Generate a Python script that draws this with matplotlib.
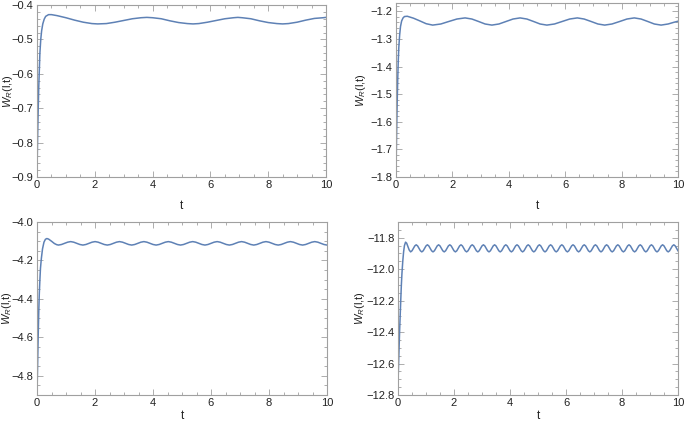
import numpy as np
import matplotlib.pyplot as plt
from matplotlib.ticker import MultipleLocator

plt.rcParams['font.family'] = ['Liberation Sans', 'DejaVu Sans']
plt.rcParams['mathtext.fontset'] = 'custom'
plt.rcParams['mathtext.rm'] = 'Liberation Sans'
plt.rcParams['mathtext.it'] = 'Liberation Sans:italic'

# panel 1 (top left)
t1 = [0, 0.01, 0.02, 0.04, 0.06, 0.08, 0.1, 0.13, 0.16, 0.2, 0.25, 0.3, 0.4, 0.5, 0.7,
      1.0, 1.3, 1.6, 1.9, 2.1, 2.4, 2.7, 3.0, 3.3, 3.6, 3.8, 4.0, 4.3, 4.6, 4.9, 5.2,
      5.4, 5.6, 5.9, 6.2, 6.5, 6.8, 6.95, 7.1, 7.4, 7.7, 8.0, 8.3, 8.5, 8.7, 9.0, 9.3,
      9.6, 9.9, 10.0]
w1 = [-0.90, -0.84, -0.79, -0.71, -0.64, -0.59, -0.54, -0.50, -0.475, -0.455, -0.441,
      -0.433, -0.428, -0.428, -0.431, -0.437, -0.444, -0.450, -0.454, -0.455, -0.454,
      -0.450, -0.445, -0.440, -0.437, -0.436, -0.437, -0.440, -0.446, -0.451, -0.454,
      -0.455, -0.454, -0.450, -0.445, -0.440, -0.437, -0.436, -0.437, -0.440, -0.446,
      -0.451, -0.454, -0.455, -0.454, -0.450, -0.444, -0.439, -0.437, -0.436]

# panel 2 (top right)
t2 = [0, 0.01, 0.02, 0.04, 0.06, 0.08, 0.1, 0.13, 0.16, 0.2, 0.25, 0.3, 0.4,
      0.62, 0.85, 1.07, 1.3, 1.59, 1.87, 2.16, 2.45, 2.69, 2.93, 3.16, 3.4,
      3.65, 3.9, 4.15, 4.4, 4.64, 4.88, 5.11, 5.35, 5.62, 5.89, 6.16, 6.43,
      6.67, 6.92, 7.16, 7.4, 7.66, 7.93, 8.19, 8.45, 8.69, 8.93, 9.16, 9.4,
      9.65, 9.85, 10.0]
w2 = [-1.80, -1.72, -1.65, -1.54, -1.45, -1.38, -1.33, -1.285, -1.255, -1.235, -1.224,
      -1.219, -1.218,
      -1.225, -1.235, -1.245, -1.250,
      -1.246, -1.237, -1.228, -1.224,
      -1.228, -1.237, -1.246, -1.250,
      -1.246, -1.237, -1.228, -1.224,
      -1.228, -1.237, -1.246, -1.250,
      -1.246, -1.237, -1.228, -1.224,
      -1.228, -1.237, -1.246, -1.250,
      -1.246, -1.237, -1.228, -1.224,
      -1.228, -1.237, -1.246, -1.250,
      -1.246, -1.240, -1.236]

# panel 3 (bottom left): start-up, then the wavy part sampled evenly
t3_rise = [0, 0.02, 0.04, 0.06, 0.08, 0.1, 0.12, 0.15, 0.19, 0.24, 0.29, 0.34, 0.4, 0.5,
           0.6, 0.68]
w3_rise = [-4.90, -4.75, -4.60, -4.47, -4.37, -4.30, -4.24, -4.19, -4.14, -4.105, -4.09,
           -4.086, -4.089, -4.100, -4.112, -4.118]
t3_wave = np.linspace(0.74, 10.0, 89)
w3_wave = [-4.120, -4.117, -4.111, -4.105, -4.102, -4.105, -4.111, -4.117,
           -4.120, -4.117, -4.111, -4.105, -4.102, -4.105, -4.111, -4.117,
           -4.120, -4.117, -4.111, -4.105, -4.102, -4.105, -4.111, -4.117,
           -4.120, -4.117, -4.111, -4.105, -4.102, -4.105, -4.111, -4.117,
           -4.120, -4.117, -4.111, -4.105, -4.102, -4.105, -4.111, -4.117,
           -4.120, -4.117, -4.111, -4.105, -4.102, -4.105, -4.111, -4.117,
           -4.120, -4.117, -4.111, -4.105, -4.102, -4.105, -4.111, -4.117,
           -4.120, -4.117, -4.111, -4.105, -4.102, -4.105, -4.111, -4.117,
           -4.120, -4.117, -4.111, -4.105, -4.102, -4.105, -4.111, -4.117,
           -4.120, -4.117, -4.111, -4.105, -4.102, -4.105, -4.111, -4.117,
           -4.120, -4.117, -4.111, -4.105, -4.102, -4.105, -4.111, -4.117,
           -4.120]

# panel 4 (bottom right)
t4_rise = [0, 0.02, 0.04, 0.06, 0.08, 0.1, 0.12, 0.14, 0.17, 0.2, 0.23, 0.27, 0.31,
           0.35, 0.4]
w4_rise = [-12.72, -12.60, -12.48, -12.38, -12.28, -12.19, -12.10, -12.03, -11.95,
           -11.89, -11.85, -11.828, -11.835, -11.855, -11.878]
t4_wave = np.linspace(0.45, 10.0, 192)
w4_wave = [-11.890, -11.883, -11.868, -11.852, -11.845, -11.852, -11.868, -11.883,
           -11.890, -11.883, -11.868, -11.852, -11.845, -11.852, -11.868, -11.883,
           -11.890, -11.883, -11.868, -11.852, -11.845, -11.852, -11.868, -11.883,
           -11.890, -11.883, -11.868, -11.852, -11.845, -11.852, -11.868, -11.883,
           -11.890, -11.883, -11.868, -11.852, -11.845, -11.852, -11.868, -11.883,
           -11.890, -11.883, -11.868, -11.852, -11.845, -11.852, -11.868, -11.883,
           -11.890, -11.883, -11.868, -11.852, -11.845, -11.852, -11.868, -11.883,
           -11.890, -11.883, -11.868, -11.852, -11.845, -11.852, -11.868, -11.883,
           -11.890, -11.883, -11.868, -11.852, -11.845, -11.852, -11.868, -11.883,
           -11.890, -11.883, -11.868, -11.852, -11.845, -11.852, -11.868, -11.883,
           -11.890, -11.883, -11.868, -11.852, -11.845, -11.852, -11.868, -11.883,
           -11.890, -11.883, -11.868, -11.852, -11.845, -11.852, -11.868, -11.883,
           -11.890, -11.883, -11.868, -11.852, -11.845, -11.852, -11.868, -11.883,
           -11.890, -11.883, -11.868, -11.852, -11.845, -11.852, -11.868, -11.883,
           -11.890, -11.883, -11.868, -11.852, -11.845, -11.852, -11.868, -11.883,
           -11.890, -11.883, -11.868, -11.852, -11.845, -11.852, -11.868, -11.883,
           -11.890, -11.883, -11.868, -11.852, -11.845, -11.852, -11.868, -11.883,
           -11.890, -11.883, -11.868, -11.852, -11.845, -11.852, -11.868, -11.883,
           -11.890, -11.883, -11.868, -11.852, -11.845, -11.852, -11.868, -11.883,
           -11.890, -11.883, -11.868, -11.852, -11.845, -11.852, -11.868, -11.883,
           -11.890, -11.883, -11.868, -11.852, -11.845, -11.852, -11.868, -11.883,
           -11.890, -11.883, -11.868, -11.852, -11.845, -11.852, -11.868, -11.883,
           -11.890, -11.883, -11.868, -11.852, -11.845, -11.852, -11.868, -11.883,
           -11.890, -11.883, -11.868, -11.852, -11.845, -11.852, -11.868, -11.883]

t3 = np.concatenate([t3_rise, t3_wave])
w3 = np.concatenate([w3_rise, w3_wave])
t4 = np.concatenate([t4_rise, t4_wave])
w4 = np.concatenate([w4_rise, w4_wave])

W, H = 685, 425
fig = plt.figure(figsize=(W / 100, H / 100), dpi=100)

# (left, top, right, bottom) in pixels, ylim, major, minor, ylabel x, xlabel y
panels = [
    (t1, w1, (37, 5, 326, 177), (-0.9, -0.4), 0.1, 0.02, -0.076, -0.135),
    (t2, w2, (396, 3, 678, 177), (-1.8, -1.17), 0.1, 0.02, -0.100, -0.135),
    (t3, w3, (37, 222, 327, 395), (-4.9, -4.0), 0.2, 0.05, -0.080, -0.085),
    (t4, w4, (398, 222, 678, 395), (-12.8, -11.7), 0.2, 0.05, -0.112, -0.085),
]

frame = '#a0a0a0'
for t, w, (l, tp, r, b), ylim, maj, mnr, ylx, xly in panels:
    ax = fig.add_axes([l / W, (H - b) / H, (r - l) / W, (b - tp) / H])
    ax.plot(t, w, color='#5E81B5', lw=1.1)
    ax.set_xlim(0, 10)
    ax.set_ylim(*ylim)
    ax.xaxis.set_major_locator(MultipleLocator(2))
    ax.xaxis.set_minor_locator(MultipleLocator(0.5))
    ax.yaxis.set_major_locator(MultipleLocator(maj))
    ax.yaxis.set_minor_locator(MultipleLocator(mnr))
    for s in ax.spines.values():
        s.set_color(frame)
        s.set_linewidth(0.8)
    ax.tick_params(which='both', direction='in', top=True, right=True,
                   color=frame, width=0.6, labelsize=8, labelcolor='#222222', pad=2.5)
    ax.tick_params(which='major', length=4)
    ax.tick_params(which='minor', length=2)
    ax.set_xlabel('t', fontsize=8.5, color='#222222')
    ax.set_ylabel(r'$W_R$(l,t)', fontsize=8, color='#222222')
    ax.xaxis.set_label_coords(0.5, xly)
    ax.yaxis.set_label_coords(ylx, 0.5)

fig.savefig('out.png', dpi=100)
